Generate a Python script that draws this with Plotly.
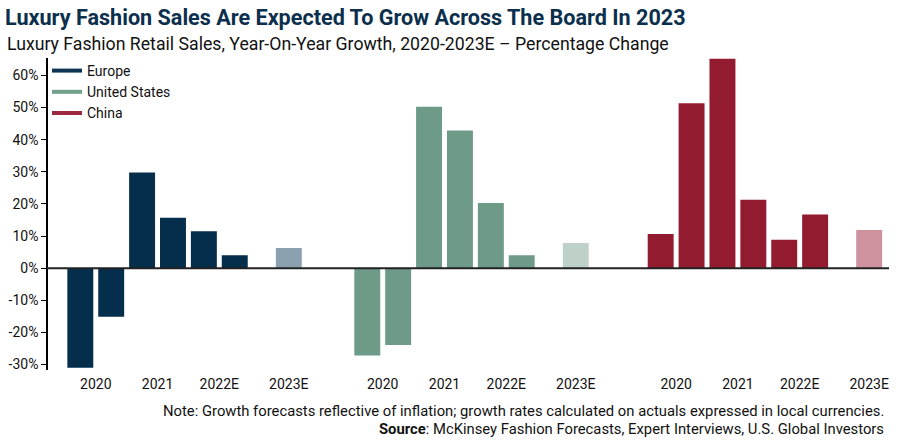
import plotly.graph_objects as go

# ---------------- data ----------------
PERIODS = ["2020 H1", "2020 H2", "2021 H1", "2021 H2", "2022E H1", "2022E H2"]
FORECAST = "2023E"
YEAR_LABELS = ["2020", "2021", "2022E", "2023E"]
REGIONS = ["Europe", "United States", "China"]

EUROPE = [-31.0, -15.1, 29.8, 15.7, 11.5, 4.0]
EUROPE_2023E = 6.3
US = [-27.2, -23.9, 50.2, 42.8, 20.3, 4.0]
US_2023E = 7.8
CHINA = [10.6, 51.3, 65.2, 21.3, 8.8, 16.7]
CHINA_2023E = 11.9

Y_TICKS = [-30, -20, -10, 0, 10, 20, 30, 40, 50, 60]
Y_TICK_LABELS = ["-30%", "-20%", "-10%", "0%", "10%", "20%", "30%", "40%", "50%", "60%"]

# ---------------- style ----------------
DARK = ["#052e4c", "#6e9b87", "#931b30"]
LIGHT = ["#8aa0af", "#bed1c8", "#cd929e"]
LEGEND_COL = ["#0d3452", "#72a08b", "#9b2a40"]
NAVY = "#0b2f4c"
TXT = "#111111"
BAR_W = 0.84
FORECAST_SHIFT = 0.75
X_RANGE = [-0.5, 7.2]
DOMAINS = [[0.0211, 0.3019], [0.3599, 0.6407], [0.7063, 0.9871]]
NARROW = "Liberation Sans Narrow, Roboto, sans-serif"
BASE = "Roboto, sans-serif"

series = [(EUROPE, EUROPE_2023E), (US, US_2023E), (CHINA, CHINA_2023E)]

fig = go.Figure()
for i, (vals, fc) in enumerate(series):
    xa = "x" if i == 0 else f"x{i+1}"
    fig.add_trace(go.Bar(x=PERIODS, y=vals, xaxis=xa, yaxis="y",
                         marker=dict(color=DARK[i], line=dict(width=0)),
                         width=BAR_W, showlegend=False, hoverinfo="skip"))
    fig.add_trace(go.Bar(x=[FORECAST], y=[fc], xaxis=xa, yaxis="y",
                         marker=dict(color=LIGHT[i], line=dict(width=0)),
                         width=BAR_W, offset=FORECAST_SHIFT - BAR_W / 2,
                         showlegend=False, hoverinfo="skip"))

for i, name in enumerate(REGIONS):
    fig.add_trace(go.Scatter(x=[None], y=[None], mode="lines", name=name,
                             line=dict(color=LEGEND_COL[i], width=4),
                             legendgroup=name, xaxis="x", yaxis="y"))

tickvals = [0.5, 2.5, 4.5, len(PERIODS) + FORECAST_SHIFT]
for i in range(3):
    key = "xaxis" if i == 0 else f"xaxis{i+1}"
    fig.layout[key] = dict(
        domain=DOMAINS[i], anchor="y", type="category",
        categoryorder="array", categoryarray=PERIODS + [FORECAST],
        range=X_RANGE, tickmode="array", tickvals=tickvals, ticktext=YEAR_LABELS,
        ticks="", showline=False, showgrid=False, zeroline=False,
        tickfont=dict(family=BASE, size=14, color=TXT), ticklabelstandoff=4,
    )

fig.update_layout(
    width=900, height=444,
    margin=dict(l=47, r=0, t=58, b=74),
    paper_bgcolor="white", plot_bgcolor="white",
    barmode="overlay",
    yaxis=dict(range=[-31.7, 65.4], tickmode="array", tickvals=Y_TICKS, ticktext=Y_TICK_LABELS,
               ticks="outside", ticklen=5, tickcolor="black", tickwidth=1,
               showline=True, linecolor="black", linewidth=1.5,
               showgrid=False, zeroline=False, anchor="free", position=0,
               tickfont=dict(family=BASE, size=14, color=TXT)),
    legend=dict(x=0.0, y=1.0 + 3 / 312, xanchor="left", yanchor="top",
                font=dict(family=BASE, size=14, color=TXT),
                bgcolor="rgba(0,0,0,0)", traceorder="grouped", tracegroupgap=0),
    title=dict(text="<b>Luxury Fashion Sales Are Expected To Grow Across The Board In 2023</b>",
               x=5 / 900, xref="container", xanchor="left",
               y=1 - 17 / 444, yref="container", yanchor="middle",
               font=dict(family=NARROW, size=21.6, color=NAVY)),
    shapes=[dict(type="line", xref="paper", yref="y", x0=0, x1=0.9941, y0=0, y1=0,
                 line=dict(color="#222222", width=2))],
    annotations=[
        dict(text="Luxury Fashion Retail Sales, Year-On-Year Growth, 2020-2023E \u2013 Percentage Change",
             xref="paper", yref="paper", x=(5 - 47) / 853, y=(370 - 44) / 312,
             xanchor="left", yanchor="middle", showarrow=False,
             font=dict(family=NARROW, size=17.7, color=TXT)),
        dict(text="Note: Growth forecasts reflective of inflation; growth rates calculated on actuals expressed in local currencies.",
             xref="paper", yref="paper", x=(892 - 47) / 853, y=(370 - 411) / 312,
             xanchor="right", yanchor="middle", showarrow=False,
             font=dict(family=BASE, size=14.8, color=TXT)),
        dict(text="<b>Source</b>: McKinsey Fashion Forecasts, Expert Interviews, U.S. Global Investors",
             xref="paper", yref="paper", x=(892 - 47) / 853, y=(370 - 429) / 312,
             xanchor="right", yanchor="middle", showarrow=False,
             font=dict(family=BASE, size=14.8, color=TXT)),
    ],
)

fig.write_html("out.html", config={"displayModeBar": False},
               post_script="document.body.style.margin='0';")
